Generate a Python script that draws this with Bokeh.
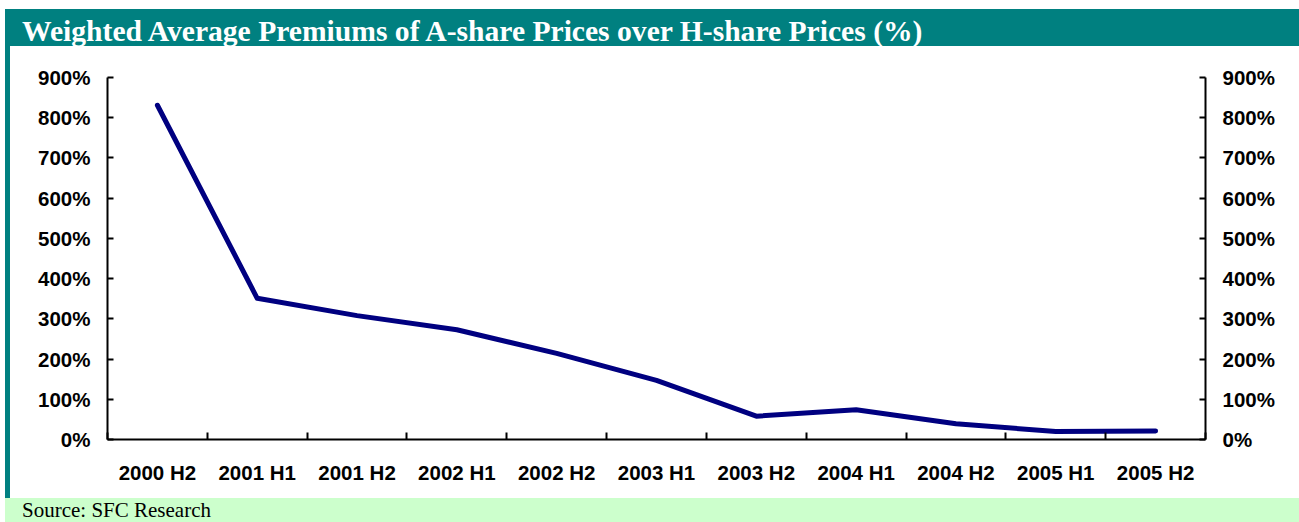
from bokeh.plotting import figure
from bokeh.models import Div, FixedTicker, LinearAxis, Range1d
from bokeh.layouts import column, row
from bokeh.embed import file_html
from bokeh.resources import INLINE

title_text = "Weighted Average Premiums of A-share Prices over H-share Prices (%)"
source_text = "Source: SFC Research"
categories = ["2000 H2", "2001 H1", "2001 H2", "2002 H1", "2002 H2", "2003 H1",
              "2003 H2", "2004 H1", "2004 H2", "2005 H1", "2005 H2"]
premiums = [831, 351, 308, 273, 214, 147, 58, 74, 39, 20, 21]
y_ticks = [0, 100, 200, 300, 400, 500, 600, 700, 800, 900]
y_tick_labels = ["0%", "100%", "200%", "300%", "400%", "500%", "600%", "700%", "800%", "900%"]

TEAL = "#008080"
GREEN = "#CCFFCC"
NAVY = "#000080"

n = len(categories)
xs = [i + 0.5 for i in range(n)]

p = figure(width=1289, height=452, x_range=Range1d(0, n), y_range=Range1d(0, 900),
           x_axis_type=None, y_axis_type=None,
           output_backend="svg", toolbar_location=None,
           min_border_left=97, min_border_right=94, min_border_top=31, min_border_bottom=59,
           margin=0)
p.outline_line_color = None
p.background_fill_color = "white"
p.border_fill_color = "white"

p.line(xs, premiums, line_color=NAVY, line_width=5, line_cap="round", line_join="round")

def style_axis(ax):
    ax.axis_line_color = "black"
    ax.axis_line_width = 2
    ax.major_label_text_font = "Liberation Sans"
    ax.major_label_text_font_style = "bold"
    ax.major_label_text_color = "black"

xaxis = LinearAxis(ticker=FixedTicker(ticks=xs, minor_ticks=list(range(n + 1))),
                   major_label_overrides={x: c for x, c in zip(xs, categories)})
style_axis(xaxis)
xaxis.major_label_text_font_size = "20.5px"
xaxis.major_tick_line_color = None
xaxis.minor_tick_in = 7
xaxis.minor_tick_out = 0
xaxis.minor_tick_line_width = 2
xaxis.minor_tick_line_color = "black"
xaxis.major_label_standoff = 15
p.add_layout(xaxis, "below")

for side in ("left", "right"):
    yaxis = LinearAxis(ticker=FixedTicker(ticks=y_ticks),
                       major_label_overrides={v: l for v, l in zip(y_ticks, y_tick_labels)})
    style_axis(yaxis)
    yaxis.major_label_text_font_size = "20.5px"
    yaxis.major_tick_in = 6
    yaxis.major_tick_out = 0
    yaxis.major_tick_line_width = 2
    yaxis.major_tick_line_color = "black"
    yaxis.minor_tick_line_color = None
    yaxis.major_label_standoff = 17
    p.add_layout(yaxis, side)

title_div = Div(
    text=('<div style="padding-left:17px;font-family:\'Liberation Serif\',serif;font-weight:bold;'
          'font-size:29.6px;line-height:44px;color:white;white-space:nowrap;">' + title_text + '</div>'),
    width=1294, height=37, margin=0,
    styles={"background-color": TEAL, "overflow": "hidden"})
bar_div = Div(text="", width=5, height=452, margin=0, styles={"background-color": TEAL})
src_div = Div(
    text=('<div style="padding-left:17px;font-family:\'Liberation Serif\',serif;'
          'font-size:21px;line-height:24px;color:black;white-space:nowrap;">' + source_text + '</div>'),
    width=1294, height=24, margin=0,
    styles={"background-color": GREEN, "overflow": "hidden"})

layout = column(title_div, row(bar_div, p, margin=0, spacing=0), src_div,
                spacing=0, margin=(9, 0, 0, 5))

open("out.html", "w").write(file_html(layout, INLINE))
